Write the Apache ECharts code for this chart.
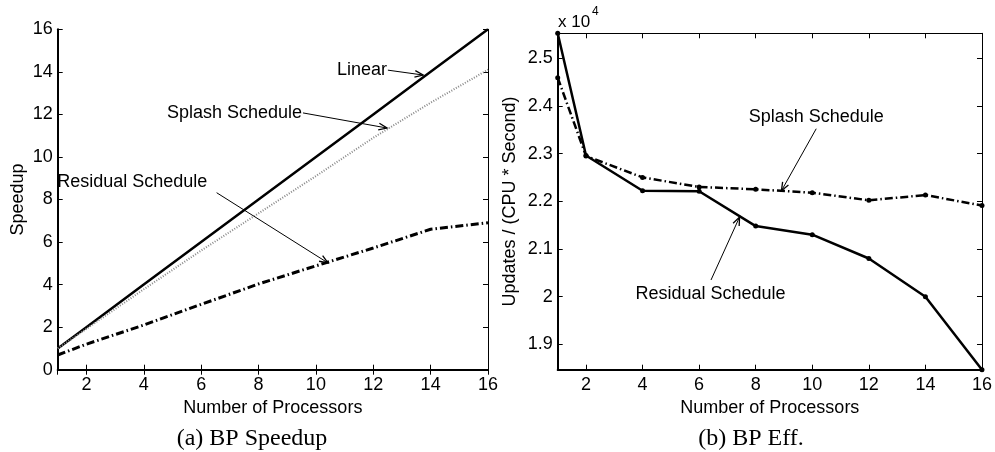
<!DOCTYPE html>
<html><head><meta charset="utf-8">
<script src="https://cdn.jsdelivr.net/npm/echarts@6/dist/echarts.min.js"></script>
<style>html,body{margin:0;padding:0;background:#fff}#c{width:995px;height:452px}</style>
</head><body><div id="c"></div>
<script>
// ---- data ----
const processors = [1, 2, 4, 6, 8, 10, 12, 14, 16];
// (a) BP Speedup
const speedupLinear   = [1, 2, 4, 6, 8, 10, 12, 14, 16];
const speedupSplash   = [1.0, 1.92, 3.78, 5.6, 7.35, 9.1, 10.9, 12.55, 14.1];
const speedupResidual = [0.69, 1.2, 2.1, 3.07, 4.03, 4.88, 5.72, 6.6, 6.91];
// (b) BP Eff. (x 10^4 updates / (CPU * second))
const effResidual = [2.552, 2.296, 2.222, 2.221, 2.148, 2.130, 2.080, 2.000, 1.847];
const effSplash   = [2.459, 2.295, 2.250, 2.230, 2.225, 2.218, 2.202, 2.213, 2.191];
const xTicks = [2, 4, 6, 8, 10, 12, 14, 16];
const speedupTicks = [0, 2, 4, 6, 8, 10, 12, 14, 16];
const effTicks = [1.9, 2.0, 2.1, 2.2, 2.3, 2.4, 2.5];

const FONT = "'Liberation Sans', Arial, Helvetica, sans-serif";
const SERIF = "'Liberation Serif', 'Times New Roman', serif";
const pair = (xs, ys) => xs.map((x, i) => [x, ys[i]]);

function fmt(v) { return String(Math.round(v * 100) / 100); }

function bottomX(grid, name) {
  return {
    type: 'value', gridIndex: grid, min: 1, max: 16, minInterval: 2, maxInterval: 2,
    name: name, nameLocation: 'middle', nameGap: 24,
    nameTextStyle: { fontFamily: FONT, fontSize: 18, color: '#000' },
    axisLine: { show: true, lineStyle: { color: '#000', width: 2 } },
    axisTick: { show: true, inside: true, length: 5, lineStyle: { color: '#000', width: 1 } },
    axisLabel: { show: true, margin: 6, fontFamily: FONT, fontSize: 18, color: '#000',
      showMinLabel: false, formatter: v => xTicks.includes(Math.round(v)) ? fmt(v) : '' },
    splitLine: { show: false }
  };
}
function topX(grid) {
  return {
    type: 'value', gridIndex: grid, position: 'top', min: 1, max: 16, minInterval: 2, maxInterval: 2,
    axisLine: { show: true, lineStyle: { color: '#000', width: 1 } },
    axisTick: { show: true, inside: true, length: 5, lineStyle: { color: '#000', width: 1 } },
    axisLabel: { show: false }, splitLine: { show: false }
  };
}

const option = {
  animation: false,
  backgroundColor: '#fff',
  grid: [
    { left: 57.7, top: 29.3, right: 995 - 488, bottom: 452 - 369.7 },
    { left: 557.7, top: 33.3, right: 10, bottom: 452 - 369.7 }
  ],
  xAxis: [bottomX(0, 'Number of Processors'), topX(0), bottomX(1, 'Number of Processors'), topX(1)],
  yAxis: [
    { type: 'value', gridIndex: 0, min: 0, max: 16, interval: 2,
      name: 'Speedup', nameLocation: 'middle', nameGap: 31,
      nameTextStyle: { fontFamily: FONT, fontSize: 18, color: '#000' },
      axisLine: { show: true, lineStyle: { color: '#000', width: 2 } },
      axisTick: { show: true, inside: true, length: 5, lineStyle: { color: '#000', width: 1 } },
      axisLabel: { margin: 5, fontFamily: FONT, fontSize: 18, color: '#000',
        formatter: v => speedupTicks.includes(Math.round(v)) ? fmt(v) : '' },
      splitLine: { show: false } },
    { type: 'value', gridIndex: 0, position: 'right', min: 0, max: 16, interval: 2,
      axisLine: { show: true, lineStyle: { color: '#000', width: 1 } },
      axisTick: { show: true, inside: true, length: 5, lineStyle: { color: '#000', width: 1 } },
      axisLabel: { show: false }, splitLine: { show: false } },
    { type: 'value', gridIndex: 1, min: 1.847, max: 2.552, minInterval: 0.1, maxInterval: 0.1,
      name: 'Updates / (CPU * Second)', nameLocation: 'middle', nameGap: 39,
      nameTextStyle: { fontFamily: FONT, fontSize: 18, color: '#000' },
      axisLine: { show: true, lineStyle: { color: '#000', width: 2 } },
      axisTick: { show: true, inside: true, length: 5, lineStyle: { color: '#000', width: 1 } },
      axisLabel: { margin: 5, fontFamily: FONT, fontSize: 18, color: '#000',
        showMinLabel: false, showMaxLabel: false, formatter: v => fmt(v) },
      splitLine: { show: false } },
    { type: 'value', gridIndex: 1, position: 'right', min: 1.847, max: 2.552, minInterval: 0.1, maxInterval: 0.1,
      axisLine: { show: true, lineStyle: { color: '#000', width: 1 } },
      axisTick: { show: true, inside: true, length: 5, lineStyle: { color: '#000', width: 1 } },
      axisLabel: { show: false }, splitLine: { show: false } }
  ],
  series: [
    { name: 'Linear', type: 'line', xAxisIndex: 0, yAxisIndex: 0, data: pair(processors, speedupLinear),
      showSymbol: false, symbol: 'none', lineStyle: { color: '#000', width: 2.5, type: 'solid' } },
    { name: 'Splash Schedule', type: 'line', xAxisIndex: 0, yAxisIndex: 0, data: pair(processors, speedupSplash),
      showSymbol: false, symbol: 'none', lineStyle: { color: '#888', width: 2, type: [1, 1.6] } },
    { name: 'Residual Schedule', type: 'line', xAxisIndex: 0, yAxisIndex: 0, data: pair(processors, speedupResidual),
      showSymbol: false, symbol: 'none', lineStyle: { color: '#000', width: 3, type: [8, 3, 1.5, 3] } },
    { name: 'Residual Schedule', type: 'line', xAxisIndex: 2, yAxisIndex: 2, data: pair(processors, effResidual),
      symbol: 'circle', symbolSize: 5, clip: false, itemStyle: { color: '#000' },
      lineStyle: { color: '#000', width: 2.5, type: 'solid' } },
    { name: 'Splash Schedule', type: 'line', xAxisIndex: 2, yAxisIndex: 2, data: pair(processors, effSplash),
      symbol: 'circle', symbolSize: 5, clip: false, itemStyle: { color: '#000' },
      lineStyle: { color: '#000', width: 2.5, type: [8, 3, 1.5, 3] } }
  ]
};

const chart = echarts.init(document.getElementById('c'), null, { renderer: 'canvas' });
chart.setOption(option);

// ---- annotations (data coordinates) ----
const notes = [
  { grid: 0, text: 'Linear', at: [12.48, 14.08], align: 'right', from: [12.51, 14.08], to: [13.74, 13.85] },
  { grid: 0, text: 'Splash Schedule', at: [9.52, 12.07], align: 'right', from: [9.55, 12.07], to: [12.48, 11.36] },
  { grid: 0, text: 'Residual Schedule', at: [0.98, 8.82], align: 'left', from: [6.54, 8.32], to: [10.42, 5.02] },
  { grid: 1, text: 'Splash Schedule', at: [10.14, 2.377], align: 'center', from: [10.14, 2.352], to: [8.91, 2.222] },
  { grid: 1, text: 'Residual Schedule', at: [6.40, 2.006], align: 'center', from: [6.42, 2.035], to: [7.43, 2.167] }
];
const graphic = [];
notes.forEach(n => {
  const p = chart.convertToPixel({ gridIndex: n.grid }, n.at);
  const a = chart.convertToPixel({ gridIndex: n.grid }, n.from);
  const b = chart.convertToPixel({ gridIndex: n.grid }, n.to);
  graphic.push({ type: 'text', x: p[0], y: p[1], z: 10,
    style: { text: n.text, font: '18px ' + FONT, fill: '#000', align: n.align, verticalAlign: 'middle' } });
  graphic.push({ type: 'line', z: 10, shape: { x1: a[0], y1: a[1], x2: b[0], y2: b[1] },
    style: { stroke: '#000', lineWidth: 1 } });
  const ang = Math.atan2(b[1] - a[1], b[0] - a[0]);
  const L = 9, w = 0.38;
  graphic.push({ type: 'polyline', z: 10, shape: { points: [
      [b[0] - L * Math.cos(ang - w), b[1] - L * Math.sin(ang - w)],
      [b[0], b[1]],
      [b[0] - L * Math.cos(ang + w), b[1] - L * Math.sin(ang + w)] ] },
    style: { stroke: '#000', lineWidth: 1.3, fill: null } });
});
graphic.push({ type: 'text', x: 558, y: 22, style: { text: 'x 10', font: '17px ' + FONT, fill: '#000', verticalAlign: 'middle' } });
graphic.push({ type: 'text', x: 592, y: 12, style: { text: '4', font: '12px ' + FONT, fill: '#000', verticalAlign: 'middle' } });
graphic.push({ type: 'text', x: 252, y: 439, style: { text: '(a) BP Speedup', font: '24px ' + SERIF, fill: '#000', align: 'center', verticalAlign: 'middle' } });
graphic.push({ type: 'text', x: 751, y: 439, style: { text: '(b) BP Eff.', font: '24px ' + SERIF, fill: '#000', align: 'center', verticalAlign: 'middle' } });
chart.setOption({ graphic: graphic });
</script>
</body></html>
